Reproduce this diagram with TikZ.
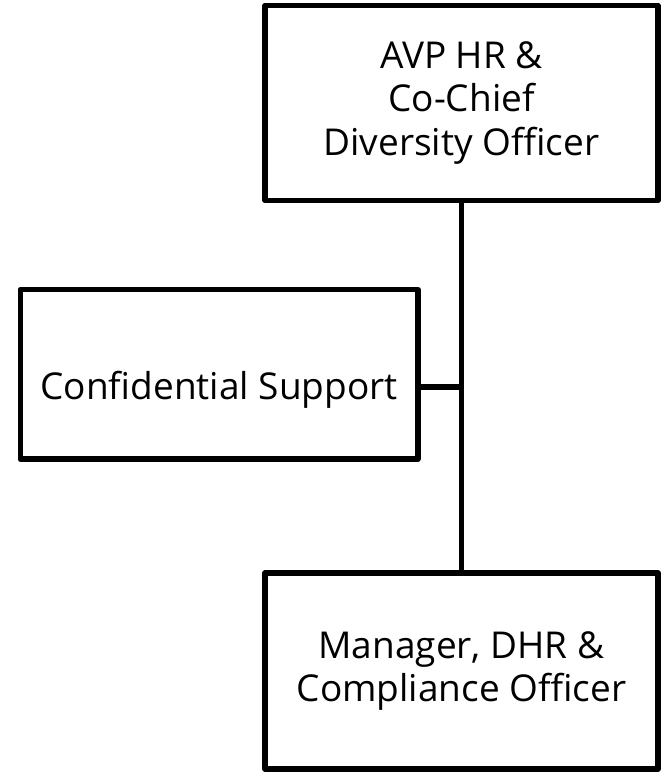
\documentclass[tikz,border=0pt]{standalone}
\usepackage{fontspec}
\setmainfont{Open Sans}
\usepackage{tikz}
\usetikzlibrary{positioning,calc}

\begin{document}
\begin{tikzpicture}[x=1pt, y=-1pt, line width=5.5pt, line join=round,
      every node/.append style={font=\fontsize{37}{43.5}\selectfont, align=center},
      unitbox/.style={draw, inner sep=0pt, minimum width=393pt, minimum height=195pt}]
    \useasboundingbox (0,0) rectangle (668,772);
    \node (AVP) [unitbox] at (461.5,103) {AVP HR \&\\Co-Chief\\Diversity Officer};
    \node (CS) [unitbox, minimum width=397.5pt, minimum height=169.5pt,
      text height=109.5pt, text depth=60pt] at (219,374.25) {Confidential Support};
    \node (DHR) [unitbox, minimum height=196pt] at (461.5,671) {Manager, DHR \&\\Compliance Officer};
    \coordinate (join) at (461.5,387);
    \draw (AVP) -- (DHR);
    \draw (CS.east |- join) -- (join);
  \end{tikzpicture}
\end{document}
